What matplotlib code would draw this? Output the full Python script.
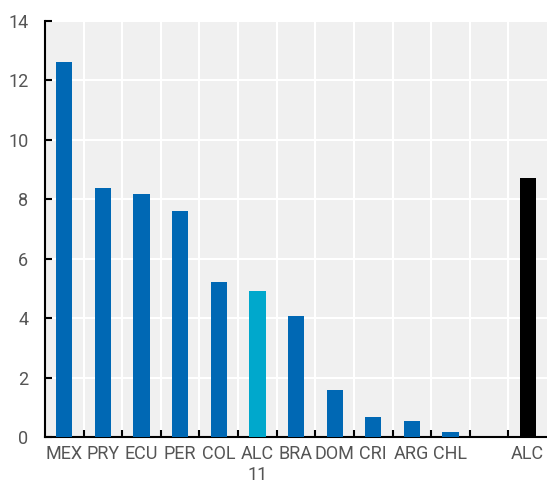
import numpy as np
import matplotlib
matplotlib.use('Agg')
import matplotlib.pyplot as plt
from matplotlib.ticker import FixedLocator, MultipleLocator

plt.rcParams['font.family'] = ['Liberation Sans Narrow', 'Roboto', 'DejaVu Sans']

# Data
labels = ['MEX', 'PRY', 'ECU', 'PER', 'COL', 'ALC\n11', 'BRA', 'DOM', 'CRI', 'ARG', 'CHL', '', 'ALC']
values = [12.62, 8.38, 8.18, 7.62, 5.22, 4.92, 4.08, 1.58, 0.68, 0.54, 0.18, np.nan, 8.72]
colors = ['#0068b4'] * 5 + ['#00a8cc'] + ['#0068b4'] * 5 + ['#0068b4', '#000000']

fig = plt.figure(figsize=(5.47, 4.80), dpi=100)
ax = fig.add_axes([0.0823, 0.0896, 0.9177, 0.9104 - 0.0438])

x = np.arange(len(labels))
ax.bar(x, values, width=0.42, color=colors, zorder=3)

ax.set_facecolor('#f0f0f0')
ax.set_xlim(-0.5, len(labels) - 0.5)
ax.set_ylim(0, 14)
ax.yaxis.set_major_locator(MultipleLocator(2))

ax.set_xticks(x)
ax.set_xticklabels(labels)
ax.xaxis.set_minor_locator(FixedLocator(np.arange(0.5, len(labels) - 0.5, 1)))
ax.tick_params(axis='x', which='major', length=0, pad=6, labelsize=13, labelcolor='#555555')
ax.tick_params(axis='x', which='minor', length=5, width=1.5, direction='in', color='black')
ax.tick_params(axis='y', which='major', length=5, width=1.5, direction='in', pad=12,
               labelsize=13, labelcolor='#555555', color='black')

ax.grid(True, axis='y', which='major', color='white', linewidth=1.5, zorder=1)
ax.grid(True, axis='x', which='minor', color='white', linewidth=1.5, zorder=1)
ax.set_axisbelow(True)

for side in ['top', 'right']:
    ax.spines[side].set_visible(False)
for side in ['left', 'bottom']:
    ax.spines[side].set_linewidth(1.5)
    ax.spines[side].set_color('black')

fig.savefig('out.png', dpi=100)
